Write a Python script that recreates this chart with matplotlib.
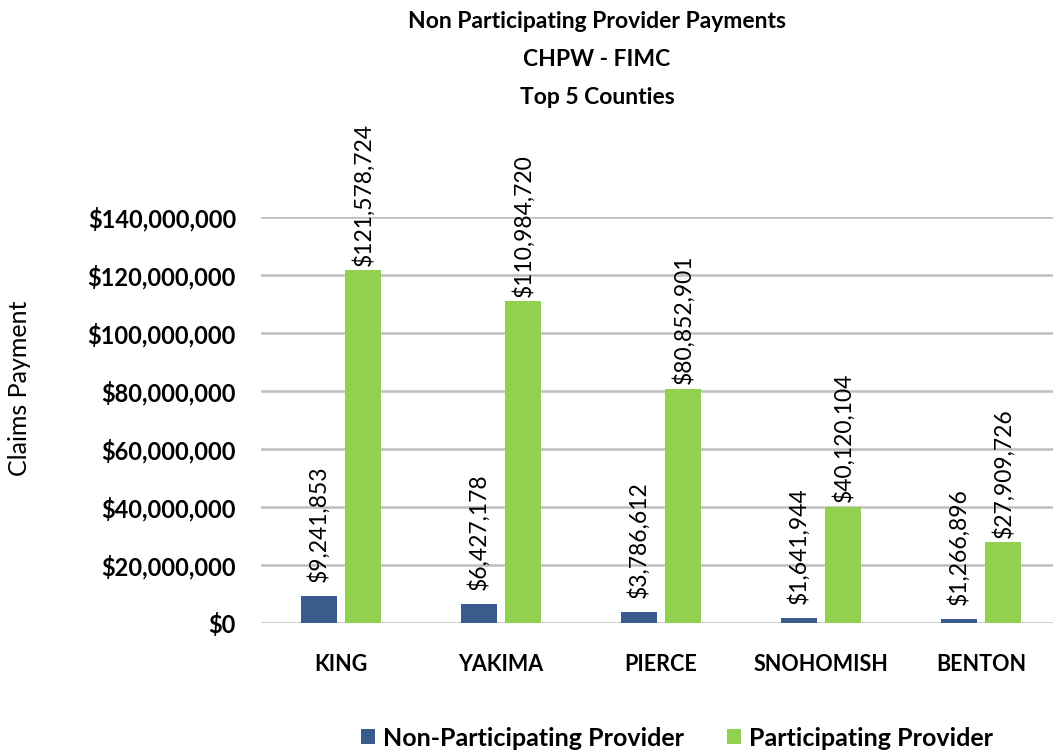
import matplotlib
matplotlib.use("Agg")
import matplotlib.pyplot as plt
import numpy as np
from matplotlib.ticker import FuncFormatter

plt.rcParams['font.family'] = ['Lato', 'DejaVu Sans']

counties = ["KING", "YAKIMA", "PIERCE", "SNOHOMISH", "BENTON"]
non_participating = [9241853, 6427178, 3786612, 1641944, 1266896]
participating = [121578724, 110984720, 80852901, 40120104, 27909726]
series_names = ["Non-Participating Provider", "Participating Provider"]
colors = ["#385D8A", "#92D050"]
title_lines = ["Non Participating Provider Payments", "CHPW - FIMC", "Top 5 Counties"]
yticks = [0, 20e6, 40e6, 60e6, 80e6, 100e6, 120e6, 140e6]

fig = plt.figure(figsize=(10.53, 7.53), dpi=100)
ax = fig.add_axes([261/1053, 1-623/753, 1-261/1053, (623-217)/753])

x = np.arange(len(counties))
w = 0.225
off = 0.14
b1 = ax.bar(x - off, non_participating, w, color=colors[0], label=series_names[0], zorder=3)
b2 = ax.bar(x + off, participating, w, color=colors[1], label=series_names[1], zorder=3)

for bars, vals, pad in ((b1, non_participating, 10), (b2, participating, 3)):
    for r, v in zip(bars, vals):
        ax.annotate(f"${v:,.0f}", (r.get_x() + r.get_width()/2, v),
                    xytext=(0, pad), textcoords="offset points",
                    rotation=90, ha="center", va="bottom", fontsize=16.5,
                    annotation_clip=False, zorder=4)

ax.set_xlim(-0.5, 4.45)
ax.set_ylim(0, 140e6)
ax.set_yticks(yticks)
ax.yaxis.set_major_formatter(FuncFormatter(lambda v, p: f"${v:,.0f}"))
ax.set_xticks(x)
ax.set_xticklabels(counties)
for lab in ax.get_yticklabels():
    lab.set_fontweight("bold")
    lab.set_fontsize(17)
for lab in ax.get_xticklabels():
    lab.set_fontweight("bold")
    lab.set_fontsize(15.5)
ax.tick_params(axis="both", length=0)
ax.tick_params(axis="y", pad=18)
ax.tick_params(axis="x", pad=22)
ax.grid(axis="y", color="#BFBFBF", linewidth=1.8, zorder=0)
for s in ax.spines.values():
    s.set_visible(False)

fig.text(20/1053, 1-388/753, "Claims Payment", rotation=90, ha="center", va="center",
         fontsize=18)
for yy, line in zip([21, 60, 98], title_lines):
    fig.text(597/1053, 1-yy/753, line, ha="center", va="center", fontsize=16.5,
             fontweight="bold")

leg = fig.legend(handles=[b1, b2], loc="center", bbox_to_anchor=(677/1053, 1-738/753),
                 ncol=2, frameon=False, fontsize=18, handlelength=0.55, handleheight=0.55,
                 columnspacing=1.7, handletextpad=0.35)
for t in leg.get_texts():
    t.set_fontweight("bold")

fig.savefig("out.png", dpi=100)
